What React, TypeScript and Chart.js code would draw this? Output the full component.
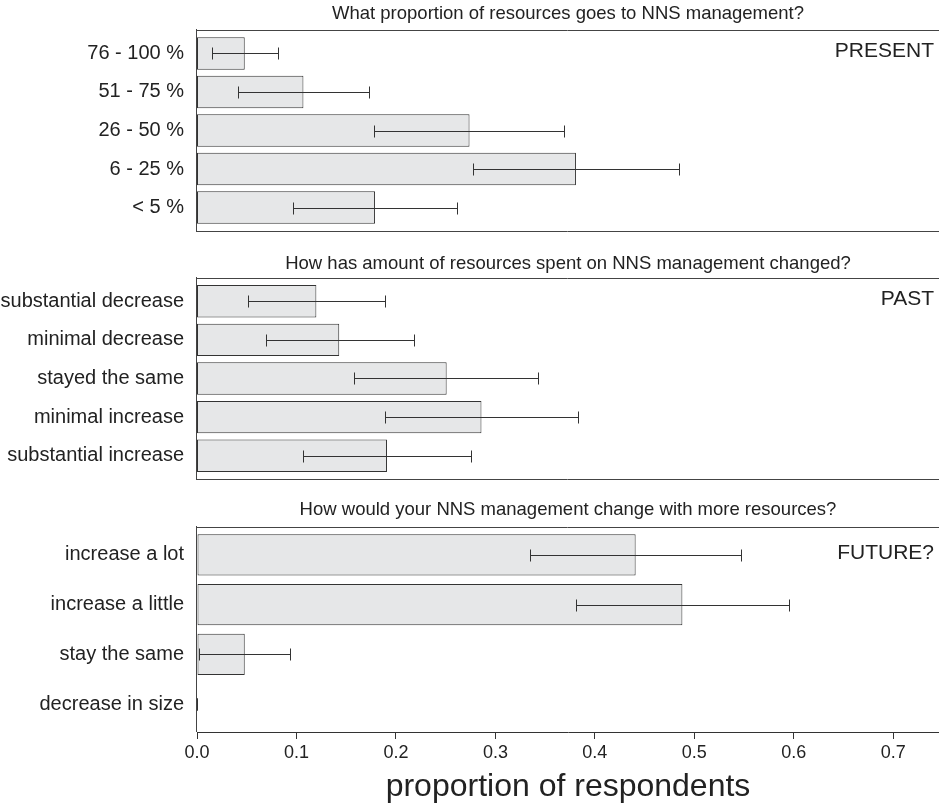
import React, { useEffect, useRef } from "react";
import { Chart, registerables } from "chart.js";

Chart.register(...registerables);

const FONT = "'Liberation Sans', Arial, Helvetica, sans-serif";

// ---------- data ----------
const presentTitle = "What proportion of resources goes to NNS management?";
const presentTag = "PRESENT";
const presentLabels = ["76 - 100 %", "51 - 75 %", "26 - 50 %", "6 - 25 %", "< 5 %"];
const presentValues = [0.048, 0.107, 0.274, 0.381, 0.179];
const presentLower = [0.015, 0.041, 0.178, 0.277, 0.097];
const presentUpper = [0.081, 0.173, 0.369, 0.485, 0.261];

const pastTitle = "How has amount of resources spent on NNS management changed?";
const pastTag = "PAST";
const pastLabels = ["substantial decrease", "minimal decrease", "stayed the same", "minimal increase", "substantial increase"];
const pastValues = [0.12, 0.143, 0.251, 0.286, 0.191];
const pastLower = [0.051, 0.069, 0.158, 0.189, 0.107];
const pastUpper = [0.189, 0.218, 0.343, 0.383, 0.275];

const futureTitle = "How would your NNS management change with more resources?";
const futureTag = "FUTURE?";
const futureLabels = ["increase a lot", "increase a little", "stay the same", "decrease in size"];
const futureValues = [0.441, 0.488, 0.048, 0];
const futureLower = [0.335, 0.381, 0.002, 0];
const futureUpper = [0.547, 0.595, 0.094, 0];

const xTicks = [0, 0.1, 0.2, 0.3, 0.4, 0.5, 0.6, 0.7];
const xMax = 0.746;
const xTitle = "proportion of respondents";

type PanelProps = {
  top: number;
  height: number;
  labels: string[];
  values: number[];
  lower: number[];
  upper: number[];
  title: string;
  tag: string;
  titleY: number;
  padTop: number;
  padBottom: number;
  edge: number;
  barPct: number;
  showX: boolean;
};

function Panel(p: PanelProps) {
  const ref = useRef<HTMLCanvasElement | null>(null);
  useEffect(() => {
    if (!ref.current) return;
    const n = p.labels.length;

    const framePlugin = {
      id: "frame",
      afterDraw(chart: any) {
        const { left, right, top, bottom } = chart.chartArea;
        const ctx = chart.ctx;
        ctx.save();
        ctx.strokeStyle = "#444";
        ctx.lineWidth = 1;
        ctx.beginPath();
        ctx.moveTo(left - 1, Math.round(top) + 0.5);
        ctx.lineTo(right, Math.round(top) + 0.5);
        ctx.moveTo(Math.round(left) - 0.5, Math.round(top) - 1);
        ctx.lineTo(Math.round(left) - 0.5, bottom + (p.showX ? 0 : 1));
        if (!p.showX) {
          ctx.moveTo(left - 1, Math.round(bottom) + 0.5);
          ctx.lineTo(right, Math.round(bottom) + 0.5);
        }
        ctx.stroke();
        ctx.restore();
      },
    };

    const errorPlugin = {
      id: "errbars",
      afterDatasetsDraw(chart: any) {
        const meta = chart.getDatasetMeta(0);
        const xs = chart.scales.x;
        const ctx = chart.ctx;
        ctx.save();
        ctx.strokeStyle = "#333";
        ctx.lineWidth = 1;
        meta.data.forEach((bar: any, i: number) => {
          const y = Math.round(bar.y) + 0.5;
          const x1 = Math.round(xs.getPixelForValue(p.lower[i])) + 0.5;
          const x2 = Math.round(xs.getPixelForValue(p.upper[i])) + 0.5;
          ctx.beginPath();
          ctx.moveTo(x1, y);
          ctx.lineTo(x2, y);
          ctx.moveTo(x1, y - 6);
          ctx.lineTo(x1, y + 6);
          ctx.moveTo(x2, y - 6);
          ctx.lineTo(x2, y + 6);
          ctx.stroke();
        });
        ctx.restore();
      },
    };

    const textPlugin = {
      id: "texts",
      afterDraw(chart: any) {
        const { left, right } = chart.chartArea;
        const ctx = chart.ctx;
        ctx.save();
        ctx.fillStyle = "#222";
        ctx.textBaseline = "middle";
        ctx.font = `18.5px ${FONT}`;
        ctx.textAlign = "center";
        ctx.fillText(p.title, (left + right) / 2, p.titleY);
        ctx.font = `21px ${FONT}`;
        ctx.textAlign = "right";
        const ty = chart.scales.y.getPixelForValue(0) - 2;
        ctx.fillText(p.tag, right - 5, ty);
        ctx.restore();
      },
    };

    const xScale: any = p.showX
      ? {
          type: "linear",
          position: "bottom",
          min: 0,
          max: xMax,
          offset: false,
          grid: { display: true, drawOnChartArea: false, drawTicks: true, tickLength: 7, color: "#333", lineWidth: 1, offset: false },
          border: { display: true, color: "#333", width: 1 },
          ticks: {
            padding: 3,
            font: { family: FONT, size: 18 },
            color: "#222",
            maxRotation: 0,
            autoSkip: false,
            includeBounds: false,
            callback: (v: any) => Number(v).toFixed(1),
          },
          afterBuildTicks: (s: any) => {
            s.ticks = xTicks.map((v) => ({ value: v }));
          },
          title: {
            display: true,
            text: xTitle,
            font: { family: FONT, size: 32 },
            color: "#222",
            padding: { top: 0, bottom: 4 },
          },
          afterFit: (s: any) => {
            s.height = 78;
          },
        }
      : { type: "linear", min: 0, max: xMax, display: false, offset: false };

    const chart = new Chart(ref.current, {
      type: "bar",
      data: {
        datasets: [
          {
            data: p.values.map((v, i) => ({ x: v, y: i })),
            backgroundColor: "#e6e7e8",
            borderColor: "#333",
            borderWidth: 1,
            borderSkipped: false,
            categoryPercentage: 1,
            barPercentage: p.barPct,
          } as any,
        ],
      },
      options: {
        indexAxis: "y",
        animation: false,
        responsive: false,
        maintainAspectRatio: false,
        layout: { padding: { top: p.padTop, bottom: p.padBottom, left: 0, right: 0 } },
        plugins: {
          legend: { display: false },
          tooltip: { enabled: false },
          title: { display: false },
        },
        scales: {
          y: {
            type: "linear",
            reverse: true,
            offset: false,
            min: -p.edge,
            max: n - 1 + p.edge,
            grid: { display: false, offset: false },
            border: { display: false },
            ticks: {
              padding: 5,
              font: { family: FONT, size: 20 },
              color: "#222",
              autoSkip: false,
              callback: (v: any) => p.labels[v] ?? "",
            },
            afterBuildTicks: (s: any) => {
              s.ticks = p.labels.map((_, i) => ({ value: i }));
            },
            afterFit: (s: any) => {
              s.width = 197;
            },
          } as any,
          x: xScale,
        },
      },
      plugins: [framePlugin, errorPlugin, textPlugin],
    });
    return () => chart.destroy();
  }, []);

  return (
    <canvas
      ref={ref}
      width={939}
      height={p.height}
      style={{ position: "absolute", left: 0, top: p.top, width: 939, height: p.height }}
    />
  );
}

export default function App() {
  return (
    <div style={{ position: "absolute", left: 0, top: 0, width: 939, height: 810, background: "#fff" }}>
      <Panel
        top={0}
        height={248}
        labels={presentLabels}
        values={presentValues}
        lower={presentLower}
        upper={presentUpper}
        title={presentTitle}
        tag={presentTag}
        titleY={14}
        padTop={30}
        padBottom={14}
        edge={0.609}
        barPct={0.845}
        showX={false}
      />
      <Panel
        top={248}
        height={248}
        labels={pastLabels}
        values={pastValues}
        lower={pastLower}
        upper={pastUpper}
        title={pastTitle}
        tag={pastTag}
        titleY={15.5}
        padTop={30}
        padBottom={14}
        edge={0.602}
        barPct={0.84}
        showX={false}
      />
      <Panel
        top={496}
        height={314}
        labels={futureLabels}
        values={futureValues}
        lower={futureLower}
        upper={futureUpper}
        title={futureTitle}
        tag={futureTag}
        titleY={14}
        padTop={31}
        padBottom={0}
        edge={0.56}
        barPct={0.83}
        showX={true}
      />
    </div>
  );
}
